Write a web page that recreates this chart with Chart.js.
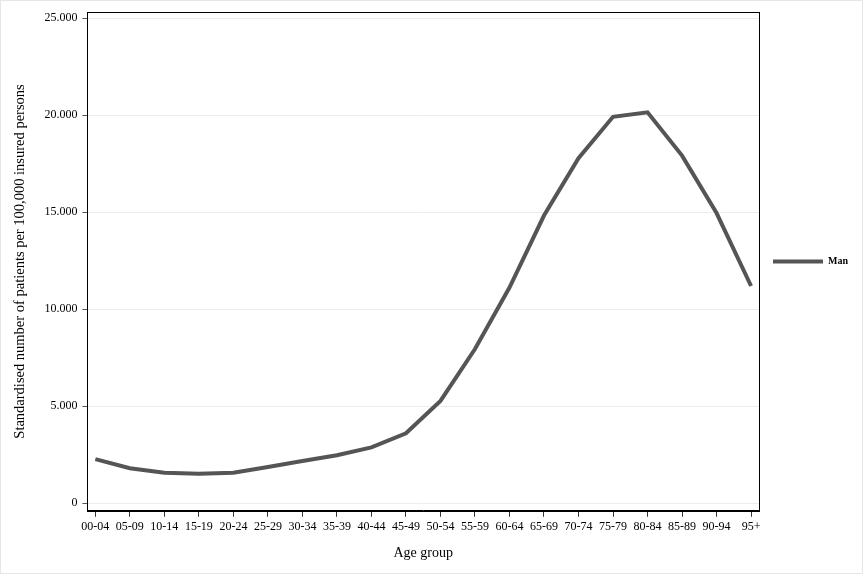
<!DOCTYPE html>
<html>
<head>
<meta charset="utf-8">
<script src="https://cdn.jsdelivr.net/npm/chart.js@4"></script>
<style>
  html, body { margin: 0; padding: 0; background: #fff; }
  #wrap { width: 864px; height: 576px; position: relative; }
</style>
</head>
<body>
<div id="wrap"><canvas id="ageChart"></canvas></div>
<script>
const ageGroups = ['00-04', '05-09', '10-14', '15-19', '20-24', '25-29', '30-34', '35-39', '40-44', '45-49',
  '50-54', '55-59', '60-64', '65-69', '70-74', '75-79', '80-84', '85-89', '90-94', '95+'];
const manValues = [2280, 1810, 1580, 1530, 1580, 1870, 2180, 2480, 2880, 3610,
  5280, 7950, 11120, 14830, 17790, 19920, 20150, 17920, 14960, 11200];
const yTicks = [0, 5000, 10000, 15000, 20000, 25000];

const serif = "'Liberation Serif', 'DejaVu Serif', serif";

// frame around plot area + light outer border
const boxPlugin = {
    id: 'boxPlugin',
    afterDraw(chart) {
        const ctx = chart.ctx;
        const a = chart.chartArea;
        ctx.save();
        ctx.strokeStyle = '#000';
        ctx.lineWidth = 1;
        ctx.strokeRect(Math.round(a.left) + 0.5, Math.round(a.top) + 0.5,
            Math.round(a.right - a.left), Math.round(a.bottom - a.top));
        ctx.strokeStyle = '#e6e6e6';
        ctx.strokeRect(0.5, 0.5, 862, 573);
        ctx.restore();
    }
};

const ctx = document.getElementById('ageChart').getContext('2d');

const ageChart = new Chart(ctx, {
    type: 'line',
    data: {
        datasets: [{
            label: 'Man',
            data: manValues.map((v, i) => ({ x: i, y: v })),
            borderColor: '#555555',
            backgroundColor: '#555555',
            borderWidth: 4,
            pointRadius: 0,
            tension: 0,
            fill: false
        }]
    },
    options: {
        responsive: true,
        maintainAspectRatio: false,
        animation: false,
        layout: { padding: { top: 9, right: 6, bottom: 14, left: 11 } },
        plugins: {
            legend: {
                position: 'right',
                fullSize: false,
                labels: {
                    usePointStyle: true,
                    pointStyle: 'line',
                    pointStyleWidth: 50,
                    boxWidth: 50,
                    color: '#000',
                    padding: 14,
                    font: { family: serif, size: 10, weight: 'bold' }
                }
            },
            tooltip: { enabled: false }
        },
        scales: {
            x: {
                type: 'linear',
                min: -0.23,
                max: ageGroups.length - 1 + 0.23,
                afterBuildTicks: axis => { axis.ticks = ageGroups.map((_, i) => ({ value: i })); },
                ticks: {
                    callback: v => ageGroups[v],
                    color: '#000',
                    maxRotation: 0,
                    autoSkip: false,
                    padding: 3,
                    font: { family: serif, size: 12 }
                },
                grid: { drawOnChartArea: false, tickLength: 6, tickColor: '#333' },
                border: { color: '#000' },
                title: {
                    display: true,
                    text: 'Age group',
                    color: '#000',
                    padding: { top: 8, bottom: 0 },
                    font: { family: serif, size: 14 }
                }
            },
            y: {
                min: -385,
                max: 25310,
                afterBuildTicks: axis => { axis.ticks = yTicks.map(v => ({ value: v })); },
                ticks: {
                    callback: v => v.toLocaleString('de-DE'),
                    color: '#000',
                    padding: 5,
                    font: { family: serif, size: 12 }
                },
                grid: { color: '#ececec', tickLength: 5, tickColor: '#555' },
                border: { color: '#000' },
                title: {
                    display: true,
                    text: 'Standardised number of patients per 100,000 insured persons',
                    color: '#000',
                    padding: { top: 0, bottom: 11 },
                    font: { family: serif, size: 14.5 }
                }
            }
        }
    },
    plugins: [boxPlugin]
});
</script>
</body>
</html>
